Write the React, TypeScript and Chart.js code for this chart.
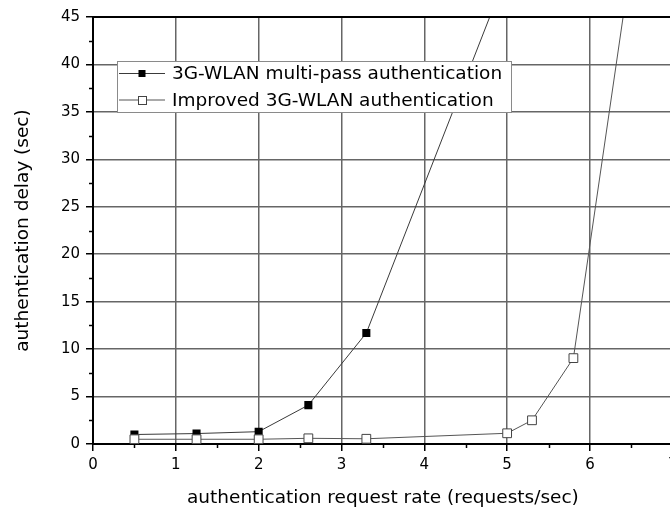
import React, { useEffect, useRef } from 'react';
import { Chart, registerables } from 'chart.js';

Chart.register(...registerables);

// ---- data ----
const seriesNames = ['3G-WLAN multi-pass authentication', 'Improved 3G-WLAN authentication'];
const multiPassX = [0.5, 1.25, 2, 2.6, 3.3, 5];
const multiPassY = [1.0, 1.1, 1.3, 4.1, 11.7, 49.7];
const improvedX = [0.5, 1.25, 2, 2.6, 3.3, 5, 5.3, 5.8, 6.5];
const improvedY = [0.5, 0.5, 0.5, 0.6, 0.55, 1.13, 2.5, 9.05, 51];
const xTitle = 'authentication request rate (requests/sec)';
const yTitle = 'authentication delay (sec)';
const xRange = [0, 7];
const yRange = [0, 45];
const xStep = 1;
const yStep = 5;

const FONT = "'DejaVu Sans', sans-serif";

const decorPlugin = {
  id: 'decor',
  afterDraw(chart: any) {
    const { ctx, chartArea: a, scales } = chart;
    const xs = scales.x;
    const ys = scales.y;
    ctx.save();
    // top frame line
    ctx.strokeStyle = '#000';
    ctx.lineWidth = 2;
    ctx.beginPath();
    ctx.moveTo(a.left - 1, a.top);
    ctx.lineTo(a.right + 2, a.top);
    ctx.stroke();

    // minor ticks (midway between major ticks)
    ctx.lineWidth = 1.5;
    const xt = xs.ticks.map((t: any) => t.value);
    for (let i = 0; i < xt.length; i++) {
      const mid = xt[i] + xStep / 2;
      const px = Math.round(xs.getPixelForValue(mid)) + 0.5;
      ctx.beginPath();
      ctx.moveTo(px, a.bottom);
      ctx.lineTo(px, a.bottom + 4);
      ctx.stroke();
    }
    const yt = ys.ticks.map((t: any) => t.value);
    for (let i = 0; i < yt.length - 1; i++) {
      const mid = (yt[i] + yt[i + 1]) / 2;
      const py = Math.round(ys.getPixelForValue(mid)) + 0.5;
      ctx.beginPath();
      ctx.moveTo(a.left - 4, py);
      ctx.lineTo(a.left, py);
      ctx.stroke();
    }

    // legend box inside plot
    const bx = a.left + 24;
    const by = a.top + 44;
    const bw = 394;
    const bh = 51;
    ctx.fillStyle = '#fff';
    ctx.fillRect(bx, by, bw, bh);
    ctx.strokeStyle = '#8a8a8a';
    ctx.lineWidth = 1;
    ctx.strokeRect(bx + 0.5, by + 0.5, bw, bh);

    const datasets = chart.data.datasets;
    const rows = [by + 12.5, by + 39];
    datasets.forEach((ds: any, i: number) => {
      const cy = rows[i];
      ctx.strokeStyle = ds.borderColor;
      ctx.lineWidth = 1;
      ctx.beginPath();
      ctx.moveTo(bx + 2, cy);
      ctx.lineTo(bx + 48, cy);
      ctx.stroke();
      const s = i === 0 ? 7 : 8;
      ctx.fillStyle = ds.pointBackgroundColor;
      ctx.fillRect(bx + 25 - s / 2, cy - s / 2, s, s);
      if (i === 1) {
        ctx.strokeStyle = ds.pointBorderColor;
        ctx.strokeRect(Math.round(bx + 25 - s / 2) + 0.5, Math.round(cy - s / 2) + 0.5, s, s);
      }
      ctx.fillStyle = '#000';
      ctx.font = `18.5px ${FONT}`;
      ctx.textBaseline = 'middle';
      ctx.textAlign = 'left';
      ctx.fillText(ds.label, bx + 55, cy + 1);
    });
    ctx.restore();
  },
};

export default function App() {
  const ref = useRef<HTMLCanvasElement>(null);
  useEffect(() => {
    if (!ref.current) return;
    const toPts = (xs: number[], ys: number[]) => xs.map((x, i) => ({ x, y: ys[i] }));
    const chart = new Chart(ref.current, {
      type: 'line',
      data: {
        datasets: [
          {
            label: seriesNames[0],
            data: toPts(multiPassX, multiPassY),
            borderColor: '#3a3a3a',
            borderWidth: 1,
            pointStyle: 'rect',
            pointRadius: 5.7,
            pointBackgroundColor: '#000',
            pointBorderColor: '#000',
            pointBorderWidth: 0,
            tension: 0,
            order: 1,
          },
          {
            label: seriesNames[1],
            data: toPts(improvedX, improvedY),
            borderColor: '#555',
            borderWidth: 1,
            pointStyle: 'rect',
            pointRadius: 6.2,
            pointBackgroundColor: '#fff',
            pointBorderColor: '#444',
            pointBorderWidth: 1,
            tension: 0,
            order: 0,
          },
        ],
      },
      options: {
        animation: false,
        responsive: false,
        devicePixelRatio: 1,
        font: { family: FONT },
        layout: { padding: { top: 17, right: 0, left: 0, bottom: 0 } },
        plugins: { legend: { display: false }, tooltip: { enabled: false } },
        scales: {
          x: {
            type: 'linear',
            min: xRange[0],
            max: xRange[1],
            ticks: {
              stepSize: xStep,
              padding: 5,
              color: '#000',
              font: { family: FONT, size: 15 },
              maxRotation: 0,
              autoSkip: false,
            },
            grid: {
              color: '#666',
              lineWidth: 1.5,
              tickLength: 7,
              tickColor: '#000',
              tickWidth: 1.5,
            },
            border: { color: '#000', width: 2 },
            title: {
              display: true,
              text: xTitle,
              color: '#000',
              font: { family: FONT, size: 18.5 },
              padding: { top: 0, bottom: 1 },
            },
            afterFit(s: any) {
              s.height = 66;
              s.paddingLeft = 0;
              s.paddingRight = 0;
            },
          },
          y: {
            type: 'linear',
            min: yRange[0],
            max: yRange[1],
            ticks: {
              stepSize: yStep,
              padding: 6,
              color: '#000',
              font: { family: FONT, size: 15 },
            },
            grid: {
              color: '#666',
              lineWidth: 1.5,
              tickLength: 7,
              tickColor: '#000',
              tickWidth: 1.5,
            },
            border: { color: '#000', width: 2 },
            title: {
              display: true,
              text: yTitle,
              color: '#000',
              font: { family: FONT, size: 18.5 },
              padding: { top: 12, bottom: 0 },
            },
            afterFit(s: any) {
              s.width = 93;
              s.paddingTop = 0;
              s.paddingBottom = 0;
            },
          },
        },
      } as any,
      plugins: [decorPlugin],
    });
    return () => chart.destroy();
  }, []);

  return (
    <div
      style={{
        position: 'fixed',
        left: 0,
        top: 0,
        width: 670,
        height: 510,
        overflow: 'hidden',
        background: '#fff',
      }}
    >
      <canvas ref={ref} width={680} height={510} style={{ display: 'block', width: 680, height: 510 }} />
    </div>
  );
}
